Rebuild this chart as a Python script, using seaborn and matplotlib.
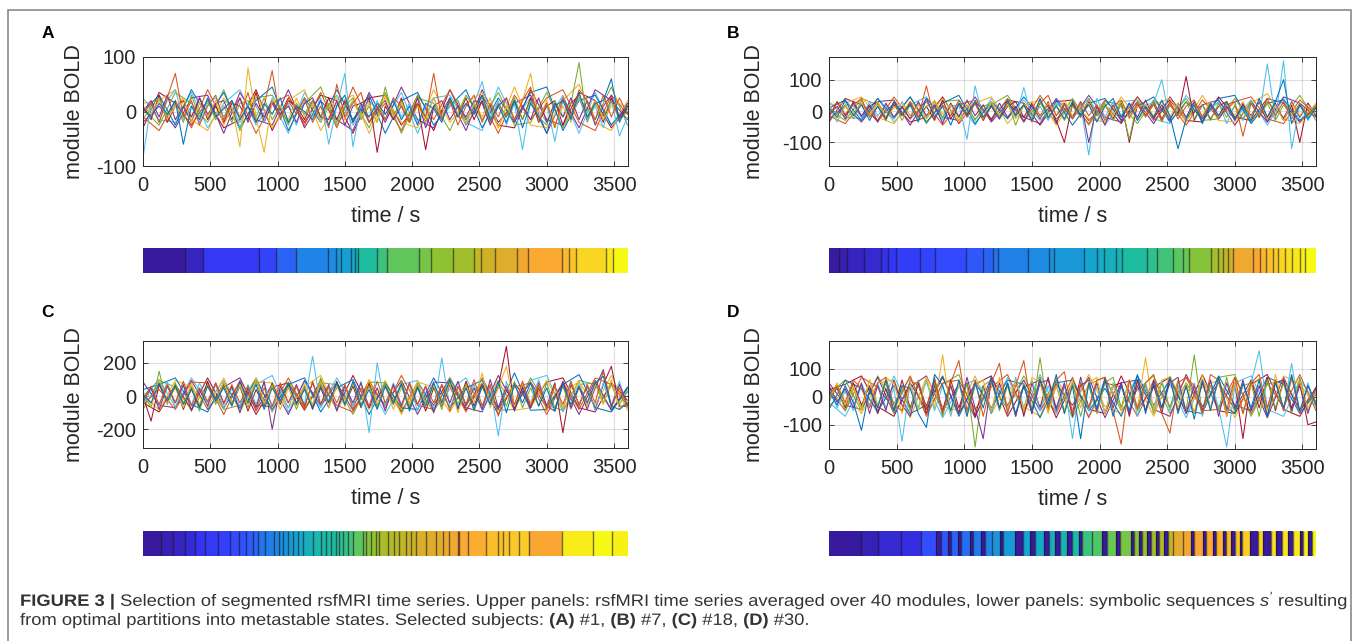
import numpy as np
import pandas as pd
import matplotlib
matplotlib.use("Agg")
import matplotlib.pyplot as plt
import seaborn as sns
from matplotlib.colors import LinearSegmentedColormap
from matplotlib.patches import Rectangle, PathPatch
from matplotlib.textpath import TextPath
from matplotlib.font_manager import FontProperties
from matplotlib.transforms import Affine2D

# ---------------- data ----------------
TIME_S = list(range(0, 3601, 60))      # fast group of modules
TIME2_S = list(range(0, 3601, 120))    # slower group of modules
XTICKS = [0, 500, 1000, 1500, 2000, 2500, 3000, 3500]

# panel A, subject #1
A_BLUE = [5, -10, 15, -5, 20, -60, 10, -15, 25, -10,
          5, 20, -15, 10, -20, 15, -5, 25, -20, 10,
          0, -15, 20, -25, 10, 30, -20, 5, -10, 15,
          -5, 20, -15, 10, -25, 15, 5, -20, 25, -10,
          15, -5, 30, -15, 10, -20, 20, -30, 15, -10,
          -40, 10, 20, -15, 35, -10, 15, 20, 60, -20,
          10]
A_ORANGE = [-5, 15, -20, 25, 70, -10, 20, -25, 10, 30,
            -15, 20, -10, 35, -20, 10, 75, -15, 20, -5,
            25, -20, 10, -30, 50, -10, 15, 35, -20, 10,
            -15, 25, 10, -20, 15, -10, 70, -15, 20, -25,
            10, 30, -20, 15, -10, 25, -15, 20, 45, -20,
            15, -30, 25, -10, 40, 20, -15, 30, -10, 25,
            -5]
A_YELLOW = [10, -5, 20, -15, 10, 25, -20, 15, -10, 20,
            -25, 10, -65, 80, -10, -75, 20, 10, -15, 25,
            -10, 15, -20, 10, 25, -15, 20, -10, 15, -20,
            30, -10, 15, -20, 10, -15, 25, -10, 20, -5,
            -20, 15, -10, 25, -30, 10, -15, 20, 70, -15,
            20, -25, 10, -20, 30, -10, 20, -15, 10, 15,
            5]
A_PURPLE = [0, 20, -10, 30, -15, 10, -20, 25, -5, 15,
            20, -15, 25, -20, 15, -10, 20, -5, 10, -20,
            15, 25, -10, -15, 20, -25, 10, 15, -20, 5,
            20, -15, 10, -20, 25, -30, 10, 20, -15, 10,
            -10, 20, 15, -25, 10, 25, -20, 10, -15, 25,
            -20, 15, -10, 25, -15, 20, -25, 10, 30, -10,
            15]
A_GREEN = [-15, 10, 25, -10, 15, -20, 30, -10, 20, -15,
           10, -20, 15, 20, -10, 25, -15, 10, -25, 15,
           -5, 20, -10, 15, -20, 10, 25, -15, 10, -20,
           45, -10, 20, -15, 30, -20, 10, -10, 15, 20,
           -15, 10, 25, -20, 15, -10, 25, -15, 20, -10,
           -25, 20, -10, 15, 90, -20, 15, -10, 20, -15,
           0]
A_CYAN = [-85, 15, -20, 20, 40, -15, 10, -20, 15, 25,
          -10, 20, -30, 15, 10, -20, 25, -10, 15, -25,
          20, -10, 25, -60, 10, 70, -65, 15, -10, 20,
          -15, 25, -10, 15, -20, 10, 25, -15, 10, 20,
          -25, 15, 55, -10, 20, -25, 15, -70, 20, -10,
          15, -55, 20, -10, 25, -15, 10, -30, 20, -45,
          -10]
A_RED = [10, -15, 30, -20, 10, 20, -10, 25, -15, 10,
         -20, 15, 10, -15, 35, -20, 15, -10, 20, 10,
         -15, 20, -10, 25, -15, 20, -20, 15, 25, -75,
         10, -15, 25, -20, 15, -70, 10, -15, 20, -10,
         25, -15, 20, -20, 15, -10, 20, -15, 25, -20,
         10, 20, -25, 15, 30, -15, 20, -20, 25, -15,
         10]
A_SLOW = [
    [0, 30, -25, 40, -10, 35, -30, 20, 45, -35, 25, -20, 40, -15, 30, -40,
     20, 35, -25, 10, 40, -30, 25, -20, 35, 45, -35, 20, 30, -25, 10],
    [-10, -35, 20, -30, 40, -20, 25, -40, 15, 30, -25, 35, -30, 45, -20, 15,
     -35, 30, -15, 40, -25, 20, -40, 30, -15, 25, 40, -20, -35, 30, -5],
    [15, 20, 40, -15, -35, 25, -20, 35, -30, 20, 40, -35, 15, 30, -40, 25,
     -20, -30, 40, -20, 15, 35, -30, 45, -25, -30, 20, 50, -20, -35, 20],
    [-20, 10, -30, 25, 30, -40, 35, -15, -25, 40, -30, 20, -15, -35, 35, -20,
     45, -15, -30, 25, -35, 40, -20, 15, 30, -40, 25, -30, 40, 20, -15],
    [5, -25, 35, 15, -20, 40, -35, 25, 30, -20, 15, 45, -25, 20, -30, 35,
     -40, 25, 15, -35, 30, -15, 35, -25, -20, 35, -30, 25, -15, 45, -25],
    [25, -15, -20, 35, -30, 15, 40, -25, 20, -40, 35, -15, 30, -25, 20, -15,
     35, -40, 25, 30, -20, -35, 45, -15, 25, -20, 30, -40, 35, -25, 15],
    [-30, 35, 15, -25, 20, -30, -15, 40, -35, 25, -20, 30, 20, -40, 25, 30,
     -25, 15, -35, 40, -15, 30, -25, -30, 40, -15, -25, 35, 20, -30, 5],
]

# panel B, subject #7
B_BLUE = [10, -20, 35, -15, 20, -30, 15, -25, 30, -10,
          20, -35, 40, -20, 15, -45, 25, -10, 30, -20,
          15, -25, 35, -15, 20, -30, 40, -20, 15, -25,
          30, -15, 20, -35, 15, 40, -20, 25, -30, 15,
          -20, 35, -15, -120, -25, 20, -40, 25, -15, 30,
          -25, 15, -30, 40, -20, 30, 100, -40, 20, -25,
          10]
B_ORANGE = [-15, 25, -10, 20, 40, -20, 15, -30, 25, -15,
            30, -20, 80, -25, 20, -15, 35, -20, 25, -30,
            15, -25, 30, -10, 20, -35, 25, 50, -15, 20,
            -25, 30, -15, 20, -30, 15, 35, -20, 25, -15,
            20, -30, 30, -25, 15, 35, -20, 25, -15, 20,
            30, -80, 25, -20, 40, -15, 30, -25, 20, -10,
            15]
B_YELLOW = [20, -30, 15, -10, 25, -15, 30, -20, 10, 25,
            -15, 20, -25, 35, -10, 20, -30, 15, 25, -20,
            30, -15, 20, -25, 15, 30, -20, 25, -15, 35,
            -20, 15, 25, -30, 20, -15, 30, -25, 15, 20,
            -15, 30, -20, 25, -35, 20, -15, 30, -20, 25,
            -15, 30, -20, 35, -25, 20, -30, 25, -15, 20,
            -10]
B_PURPLE = [-10, 15, -25, 30, -15, 20, -35, 25, -20, 15,
            -25, 30, -15, 20, -40, 25, -20, 35, -15, 20,
            -30, 25, -20, 15, -35, 20, -25, 30, -40, 25,
            -20, 30, -100, 15, -45, 20, -30, 25, -20, 35,
            -25, 20, -30, 25, -20, 30, -35, 20, -25, 15,
            -30, 25, -20, 30, -35, 20, -25, 30, -20, 25,
            -15]
B_GREEN = [15, -10, 20, -25, 35, -15, 25, -20, 30, -30,
           20, -25, 15, 30, -20, 25, -15, 20, -30, 15,
           25, -20, 30, -45, 20, -15, 35, -25, 20, -30,
           15, -20, 40, -15, 25, -30, 20, -90, 30, -20,
           25, -35, 20, -15, 30, -25, 20, -30, 25, -20,
           15, -25, 30, -20, 25, -30, 20, -15, 25, -20,
           20]
B_CYAN = [5, -35, 20, 15, -20, 30, -15, 20, -25, 30,
          -15, 25, -20, 30, -25, 15, 20, -90, 80, -20,
          25, -15, 30, -20, 75, -25, 15, -30, 20, 25,
          -15, 20, -140, 40, -20, 30, -15, 25, -30, 20,
          25, 100, -30, 20, -25, 30, -20, 15, 25, -40,
          20, -30, 25, -20, 150, -25, 160, -120, 20, -30,
          10]
B_RED = [-20, 30, -15, 25, -20, 15, 30, -25, 20, -15,
         25, -20, 15, -30, 35, -25, 20, -15, 25, -30,
         20, -25, 15, 30, -20, 25, -15, 20, -30, -100,
         25, -20, 30, -15, 20, -25, 30, -100, 20, -15,
         30, -25, 20, -15, 110, -30, 20, -25, 15, 30,
         -25, 20, -15, 30, -20, 25, -30, 20, -100, 25,
         -15]
B_SLOW = [
    [10, 35, -30, 40, -20, 45, -35, 25, 50, -40, 30, -25, 45, -20, 35, -45,
     25, 40, -30, 15, 45, -35, 30, -25, 40, 50, -40, 25, 35, -30, 10],
    [-15, -40, 25, -35, 45, -25, 30, -45, 20, 35, -30, 40, -35, 50, -25, 20,
     -40, 35, -20, 45, -30, 25, -45, 35, -20, 30, 45, -25, -40, 35, -10],
    [20, 25, 45, -20, -40, 30, -25, 40, -35, 25, 45, -40, 20, 35, -45, 30,
     -25, -35, 45, -25, 20, 40, -35, 50, -30, -35, 25, 55, -25, -40, 25],
    [-25, 15, -35, 30, 35, -45, 40, -20, -30, 45, -35, 25, -20, -40, 40, -25,
     50, -20, -35, 30, -40, 45, -25, 20, 35, -45, 30, -35, 45, 25, -20],
    [5, -30, 40, 20, -25, 45, -40, 30, 35, -25, 20, 50, -30, 25, -35, 40,
     -45, 30, 20, -40, 35, -20, 40, -30, -25, 40, -35, 30, -20, 50, -30],
    [30, -20, -25, 40, -35, 20, 45, -30, 25, -45, 40, -20, 35, -30, 25, -20,
     40, -45, 30, 35, -25, -40, 50, -20, 30, -25, 35, -45, 40, -30, 20],
    [-35, 40, 20, -30, 25, -35, -20, 45, -40, 30, -25, 35, 25, -45, 30, 35,
     -30, 20, -40, 45, -20, 35, -30, -35, 45, -20, -30, 40, 25, -35, 10],
]

# panel C, subject #18
C_BLUE = [10, -40, 80, -30, 60, -50, 40, -70, 60, -30,
          50, -60, 90, -40, 70, -80, 50, -30, 80, -50,
          40, -70, 60, -40, 80, -50, 90, -60, 40, -80,
          60, -40, 70, -90, 50, -60, 80, -40, 100, -70,
          50, -80, 60, -50, 90, -100, 70, -40, 80, -60,
          50, -90, 70, -50, 60, -40, 80, 120, -60, -80,
          -40]
C_ORANGE = [-20, 60, -50, 70, -40, 90, -60, 50, -30, 80,
            -50, 70, -40, 60, -90, 50, -60, 80, -40, 60,
            -70, 90, -50, 60, -40, 70, -80, 50, -60, 90,
            -40, 60, -70, 80, -50, 60, -40, 70, -90, 60,
            -50, 100, -60, 70, -120, 60, -50, 90, -60, 70,
            -80, 60, -50, 90, -60, 70, -40, 150, -70, 50,
            -60]
C_YELLOW = [30, -60, 100, -40, 50, -70, 80, -50, 60, -40,
            90, -60, 70, -50, 110, -40, 60, -80, 50, -60,
            70, -50, 90, -70, 60, -40, 80, -60, 100, -50,
            60, -80, 50, -40, 90, -60, 70, -50, 80, -100,
            60, -40, 140, -70, 50, 180, -60, 80, -50, 70,
            -90, 60, -70, 50, 90, -60, 70, -50, 100, -80,
            -20]
C_PURPLE = [-30, 50, -80, 60, -40, 70, -90, 40, -60, 80,
            -40, 60, -100, 50, -70, 90, -200, 60, -40, 70,
            -60, 80, -50, 70, -90, 60, -40, 80, -70, 50,
            -90, 70, -60, 80, -50, 60, -100, 70, -40, 90,
            -60, 50, -80, 100, -70, 60, -90, 50, -70, 80,
            -60, -90, 90, -70, 60, -80, 50, 160, -60, 70,
            -50]
C_GREEN = [20, -70, 150, -50, 80, -40, 60, -90, 70, -50,
           80, -40, 60, -70, 90, -50, 70, -40, 60, -80,
           50, -60, 110, -40, 70, -60, 80, -50, 60, -70,
           80, -50, 90, -60, 70, -40, 60, -80, 90, -50,
           70, -90, 60, -50, 80, -60, 90, -70, 50, -60,
           80, -70, 60, -80, 50, -60, 90, -40, 70, -50,
           30]
C_CYAN = [-50, 40, -60, 90, -70, 60, -50, 80, -40, 70,
          -80, 50, -60, 70, -50, 80, -60, 40, -70, 60,
          -50, 240, -60, 50, -80, 70, -60, 90, -220, 200,
          -60, 80, -50, 70, -90, 60, -80, 230, -70, 60,
          -50, 70, -90, 60, -240, 90, -60, 70, -40, 100,
          -70, 60, -80, 90, -60, 70, -90, 80, -60, 90,
          -70]
C_RED = [0, -150, 70, -40, 60, -80, 50, -60, 90, -40,
         70, -50, 60, -90, 40, -60, 80, -50, 70, -40,
         60, -80, 50, -70, 90, -50, 60, -70, 80, -60,
         70, -50, 80, -70, 60, -90, 50, -60, 70, -80,
         90, -60, 70, -50, 60, 300, -80, 60, -70, 50,
         -60, 80, -220, 70, -50, 60, -80, 70, 180, -60,
         -60]
C_SLOW = [
    [40, 70, 110, -50, -95, 80, -70, 100, -80, 70, 110, -95, 50, 100, -110, 80,
     -70, -80, 110, -70, 50, 95, -80, 140, -85, -80, 70, 130, -70, -95, 50],
    [-50, 40, -80, 85, 80, -110, 95, -55, -65, 110, -80, 70, -55, -95, 95, -70,
     125, -55, -80, 85, -95, 110, -70, 55, 80, -110, 85, -80, 110, 70, -55],
    [10, -85, 95, 55, -70, 110, -95, 85, 80, -70, 55, 125, -85, 70, -80, 95,
     -110, 85, 55, -95, 80, -55, 95, -85, -70, 95, -80, 85, -55, 125, -85],
    [85, -55, -70, 95, -80, 55, 110, -85, 70, -110, 95, -55, 80, -85, 70, -55,
     95, -110, 85, 80, -70, -95, 125, -55, 85, -70, 80, -110, 95, -85, 55],
    [-80, 95, 55, -85, 70, -80, -55, 110, -95, 85, -70, 80, 70, -110, 85, 80,
     -85, 55, -95, 110, -55, 80, -85, -80, 110, -55, -85, 95, 70, -80, 25],
    [0, 100, -65, 110, -40, 95, -80, 70, 125, -95, 85, -70, 110, -55, 80, -110,
     70, 95, -85, 40, 110, -80, 85, -70, 95, 125, -95, 70, 80, -85, 40],
    [-40, -95, 70, -80, 110, -70, 85, -110, 55, 80, -85, 95, -80, 125, -70, 55,
     -95, 80, -55, 110, -85, 70, -110, 80, -55, 85, 110, -70, -95, 80, -25],
]

# panel D, subject #30
D_BLUE = [20, -30, 40, -20, -120, 30, -40, 60, -50, 40,
          30, -60, -110, 80, 40, -50, 60, -70, 50, -40,
          70, -40, 50, -60, 40, -50, 60, -30, 80, -60,
          40, -150, 50, -40, 60, -70, 40, -50, 80, -60,
          50, -40, 70, -60, 40, -80, 60, -50, 70, -40,
          -60, 50, -40, 60, -70, 50, -40, 80, -50, 40,
          -30]
D_ORANGE = [10, 40, -20, 60, 30, -40, 50, 70, -30, -50,
            60, 40, -40, 70, -60, 50, 130, -50, 60, -70,
            50, 120, -60, 40, 130, -50, 70, -40, 60, 90,
            -60, 50, -40, 60, 70, -50, -170, 60, -40, 50,
            80, -60, -130, 50, 70, 40, -60, 80, 60, -50,
            70, -60, 50, 80, -40, 60, -50, 70, -60, 40,
            -20]
D_YELLOW = [-10, 50, -30, 40, -50, 60, -40, 70, 50, -60,
            40, -50, 70, -40, 150, -60, 50, -70, 40, 60,
            -50, 70, -40, 60, -50, 70, 50, -60, 40, -50,
            60, -40, 50, 70, -60, 40, -50, 60, -40, 140,
            -50, 60, 70, -40, 50, -60, 80, -40, 60, -70,
            50, -60, 40, 60, -50, 80, -40, 60, 50, -40,
            20]
D_PURPLE = [40, -20, 30, -40, 50, -60, 40, -50, 60, -30,
            -70, 50, -40, 60, -50, 40, -60, 70, -40, -150,
            60, -40, 50, -70, 40, -60, 50, 60, -40, 50,
            -70, 40, 60, -50, 70, -40, 50, -60, 40, -50,
            60, -40, 50, 70, -60, 40, -50, 60, -70, 50,
            -40, 60, -50, 40, -70, 50, 60, -50, 40, -60,
            30]
D_GREEN = [-20, 40, -50, 30, -40, 60, -30, 50, -60, 40,
           -50, 60, -40, 50, -70, 40, -60, 50, -180, 40,
           60, -50, 40, -70, 50, -60, 140, -50, 40, -60,
           50, -70, 40, -60, 50, 70, -40, 60, -50, 40,
           -60, 50, -40, 60, -50, 150, -60, 40, -50, 70,
           -60, 40, 50, -70, 60, -40, 50, -60, 70, -50,
           10]
D_CYAN = [30, -40, 20, -50, 40, -30, 50, -40, 30, -160,
          50, -40, 60, -50, 40, -70, 50, -60, 40, 30,
          -60, 40, -50, 70, -40, 60, -50, 40, -60, 50,
          -150, 60, -50, 40, -60, 50, -40, 60, -70, 50,
          -40, 60, -50, 40, -60, 50, -70, 60, -40, -180,
          40, -60, 50, 165, -40, 60, -50, 120, -60, 50,
          -40]
D_RED = [0, 30, -40, 50, -30, 40, -60, 30, -50, 60,
         -40, 50, -60, 40, -50, 60, -40, 50, -70, 40,
         -60, 50, -40, 60, -70, 50, -40, 70, -50, 40,
         -60, 70, -40, 50, -60, 40, 50, -70, 60, -50,
         40, -60, 70, -50, 40, -60, 50, -40, 60, -70,
         50, -150, 60, -40, 70, -50, 60, -40, 50, -100,
         -90]
D_SLOW = [
    [-45, 60, 30, -50, 40, -60, -30, 75, -70, 50, -40, 60, 45, -75, 50, 60,
     -50, 30, -70, 75, -30, 60, -50, -60, 75, -30, -50, 70, 45, -60, 15],
    [30, -50, 70, 35, -45, 75, -70, 50, 60, -45, 35, 80, -50, 45, -60, 70,
     -75, 50, 35, -70, 60, -35, 70, -50, -45, 70, -60, 50, -35, 80, -50],
    [-35, 25, -60, 50, 60, -75, 70, -35, -50, 75, -60, 45, -35, -70, 70, -45,
     80, -35, -60, 50, -70, 75, -45, 35, 60, -75, 50, -60, 75, 45, -35],
    [50, -30, -45, 70, -60, 35, 75, -50, 45, -75, 70, -30, 60, -50, 45, -30,
     70, -75, 50, 60, -45, -70, 80, -35, 50, -45, 60, -75, 70, -50, 30],
    [10, 60, -50, 75, -25, 70, -60, 45, 80, -70, 50, -45, 75, -35, 60, -75,
     45, 70, -50, 25, 75, -60, 50, -45, 70, 80, -70, 45, 60, -50, 20],
    [-20, -70, 45, -60, 75, -45, 50, -75, 35, 60, -50, 70, -60, 80, -45, 35,
     -70, 60, -35, 75, -50, 45, -75, 60, -35, 50, 75, -45, -70, 60, -20],
    [25, 45, 75, -35, -70, 50, -45, 70, -60, 45, 75, -70, 35, 60, -75, 50,
     -45, -60, 75, -45, 35, 70, -60, 80, -50, -60, 45, 80, -45, -70, 35],
]

# symbolic sequences: segment edges (s) and colour level of each segment
A_EDGES = [0, 309, 445, 861, 990, 1138, 1373, 1435, 1472, 1546, 1578, 1596,
           1739, 1811, 2049, 2140, 2301, 2457, 2511, 2617, 2778, 2857, 3112,
           3167, 3216, 3439, 3489, 3600]
A_LEVELS = [0.00, 0.04, 0.12, 0.15, 0.22, 0.28, 0.30, 0.33, 0.36, 0.40, 0.42,
            0.48, 0.52, 0.57, 0.60, 0.63, 0.66, 0.70, 0.72, 0.75, 0.78, 0.81,
            0.85, 0.88, 0.92, 0.96, 1.00]

B_EDGES = [0, 74, 136, 260, 384, 434, 496, 669, 781, 1016, 1140, 1214, 1251,
           1474, 1623, 1660, 1883, 1982, 2032, 2119, 2168, 2354, 2428, 2540,
           2614, 2664, 2825, 2874, 2912, 2949, 2986, 3135, 3184, 3234, 3283,
           3321, 3370, 3420, 3482, 3519, 3600]
B_LEVELS = [0.00, 0.02, 0.04, 0.06, 0.09, 0.11, 0.13, 0.15, 0.17, 0.20, 0.22,
            0.25, 0.27, 0.30, 0.32, 0.34, 0.38, 0.40, 0.42, 0.44, 0.48, 0.50,
            0.53, 0.56, 0.58, 0.62, 0.66, 0.68, 0.70, 0.72, 0.78, 0.80, 0.84,
            0.87, 0.90, 0.92, 0.94, 0.96, 0.98, 1.00]

C_EDGES = [0, 136, 223, 309, 383, 458, 557, 643, 717, 767, 816, 853, 903, 977,
           1014, 1039, 1076, 1113, 1150, 1188, 1262, 1324, 1361, 1398, 1435,
           1460, 1484, 1522, 1559, 1633, 1658, 1695, 1732, 1757, 1818, 1868,
           1905, 1954, 1992, 2029, 2103, 2177, 2227, 2276, 2338, 2350, 2412,
           2548, 2635, 2672, 2721, 2796, 2870, 3117, 3340, 3488, 3600]
C_LEVELS = [0.00, 0.02, 0.04, 0.07, 0.10, 0.12, 0.14, 0.17, 0.19, 0.21, 0.23,
            0.25, 0.27, 0.29, 0.31, 0.33, 0.35, 0.37, 0.39, 0.42, 0.45, 0.46,
            0.47, 0.48, 0.49, 0.50, 0.51, 0.53, 0.56, 0.60, 0.62, 0.64, 0.65,
            0.67, 0.68, 0.69, 0.70, 0.71, 0.72, 0.74, 0.75, 0.76, 0.77, 0.78,
            0.79, 0.81, 0.82, 0.86, 0.87, 0.88, 0.89, 0.90, 0.80, 0.97, 1.00,
            0.98]

D_EDGES = [0, 235, 359, 533, 681, 793, 830, 880, 904, 954, 979, 1041, 1066,
           1127, 1152, 1202, 1264, 1289, 1375, 1437, 1487, 1524, 1586, 1623,
           1673, 1710, 1759, 1797, 1846, 1871, 1945, 2020, 2057, 2119, 2151,
           2230, 2255, 2292, 2317, 2354, 2379, 2416, 2436, 2478, 2503, 2540,
           2614, 2676, 2701, 2763, 2788, 2837, 2862, 2912, 2936, 2974, 2998,
           3036, 3055, 3110, 3172, 3209, 3271, 3308, 3345, 3395, 3432, 3482,
           3506, 3543, 3568, 3600]
D_LEVELS = [0.00, 0.03, 0.06, 0.08, 0.18, 0.00, 0.20, 0.00, 0.22, 0.00, 0.24,
            0.00, 0.26, 0.00, 0.28, 0.33, 0.00, 0.35, 0.00, 0.38, 0.00, 0.40,
            0.00, 0.42, 0.00, 0.44, 0.00, 0.46, 0.00, 0.52, 0.55, 0.00, 0.58,
            0.00, 0.60, 0.00, 0.62, 0.00, 0.64, 0.00, 0.66, 0.00, 0.68, 0.00,
            0.70, 0.76, 0.78, 0.00, 0.80, 0.00, 0.82, 0.00, 0.84, 0.00, 0.86,
            0.00, 0.88, 0.00, 0.90, 0.00, 0.92, 0.00, 0.94, 0.00, 0.95, 0.00,
            0.96, 0.00, 0.98, 0.00, 1.00]

PANELS = [
    ("A", [A_BLUE, A_ORANGE, A_YELLOW, A_PURPLE, A_GREEN, A_CYAN, A_RED], A_SLOW,
     (-100, 100), [-100, 0, 100], A_EDGES, A_LEVELS),
    ("B", [B_BLUE, B_ORANGE, B_YELLOW, B_PURPLE, B_GREEN, B_CYAN, B_RED], B_SLOW,
     (-175, 172), [-100, 0, 100], B_EDGES, B_LEVELS),
    ("C", [C_BLUE, C_ORANGE, C_YELLOW, C_PURPLE, C_GREEN, C_CYAN, C_RED], C_SLOW,
     (-312, 332), [-200, 0, 200], C_EDGES, C_LEVELS),
    ("D", [D_BLUE, D_ORANGE, D_YELLOW, D_PURPLE, D_GREEN, D_CYAN, D_RED], D_SLOW,
     (-187, 200), [-100, 0, 100], D_EDGES, D_LEVELS),
]

# ---------------- style ----------------
sns.set_theme(style="ticks")
plt.rcParams["font.family"] = ["Liberation Sans", "DejaVu Sans"]
plt.rcParams["axes.unicode_minus"] = False
plt.rcParams["mathtext.fontset"] = "custom"
plt.rcParams["mathtext.rm"] = "Liberation Sans"
plt.rcParams["mathtext.it"] = "Liberation Sans:italic"
plt.rcParams["mathtext.bf"] = "Liberation Sans:bold"

MATLAB_COLORS = ["#0072BD", "#D95319", "#EDB120", "#7E2F8E",
                 "#77AC30", "#4DBEEE", "#A2142F"]
INK = (0.15, 0.15, 0.15)

parula = LinearSegmentedColormap.from_list("parula_like", [
    (0.00, (0.22, 0.10, 0.62)),
    (0.10, (0.20, 0.20, 0.95)),
    (0.18, (0.20, 0.30, 1.00)),
    (0.28, (0.12, 0.52, 0.90)),
    (0.38, (0.08, 0.65, 0.80)),
    (0.48, (0.12, 0.74, 0.62)),
    (0.56, (0.35, 0.78, 0.38)),
    (0.64, (0.58, 0.76, 0.18)),
    (0.72, (0.80, 0.70, 0.15)),
    (0.80, (0.98, 0.65, 0.20)),
    (0.90, (0.98, 0.80, 0.15)),
    (1.00, (0.97, 0.98, 0.08)),
])

W, H = 1357, 641
fig = plt.figure(figsize=(W / 100, H / 100), dpi=100)


def fbox(x0, x1, y_top, y_bot):
    return [x0 / W, 1 - y_bot / H, (x1 - x0) / W, (y_bot - y_top) / H]


# pixel layout: axes x0, x1, top, bottom, bar top, bar bottom, letter x, y, ylabel offset
LAYOUT = {
    "A": (143, 627.5, 57, 166, 248, 273, 48, 34, 58),
    "B": (829, 1316, 57, 166, 248, 273, 733, 34, 64),
    "C": (143, 627.5, 341, 448, 531, 556, 48, 312, 58),
    "D": (829, 1316, 341, 449, 531, 556, 733, 312, 64),
}

for letter, fast, slow, ylim, yticks, edges, levels in PANELS:
    x0, x1, yt, yb, bt, bb, lx, ly, yoff = LAYOUT[letter]
    ax = fig.add_axes(fbox(x0, x1, yt, yb))

    frames = []
    for k, vals in enumerate(fast):
        frames.append(pd.DataFrame({"time": TIME_S, "bold": vals, "module": f"f{k}"}))
    for k, vals in enumerate(slow):
        frames.append(pd.DataFrame({"time": TIME2_S, "bold": vals, "module": f"s{k}"}))
    df = pd.concat(frames, ignore_index=True)
    order = [f"f{k}" for k in range(len(fast))] + [f"s{k}" for k in range(len(slow))]
    pal = {m: MATLAB_COLORS[i % 7] for i, m in enumerate(order)}
    # slow modules first so the sharp ones sit on top
    sns.lineplot(data=df, x="time", y="bold", hue="module", hue_order=order[::-1],
                 palette=pal, legend=False, linewidth=0.75, estimator=None, ax=ax)

    ax.set_xlim(0, 3600)
    ax.set_ylim(*ylim)
    ax.set_xticks(XTICKS)
    ax.set_yticks(yticks)
    ax.grid(True, color=INK, alpha=0.15, linewidth=0.8)
    ax.set_axisbelow(True)
    ax.tick_params(direction="in", length=3.5, width=0.6, top=True,
                   right=True, labelsize=14.5, colors=INK)
    ax.tick_params(axis="x", pad=7)
    ax.tick_params(axis="y", pad=5)
    for sp in ax.spines.values():
        sp.set_color(INK)
        sp.set_linewidth(0.7)
    ax.set_xlabel("time / s", fontsize=15.5, color=INK)
    ax.set_ylabel("module BOLD", fontsize=15.5, color=INK)
    ax.xaxis.set_label_coords(0.5, -40 / (yb - yt))
    ax.yaxis.set_label_coords(-yoff / (x1 - x0), 0.5)

    # symbolic sequence bar
    bax = fig.add_axes(fbox(x0, x1, bt, bb))
    bax.barh(0, np.diff(edges), left=edges[:-1], height=1.0,
             color=parula(np.array(levels)), edgecolor="none")
    bax.vlines(edges[1:-1], -0.5, 0.5, color=(0.1, 0.08, 0.15),
               linewidth=1.0, alpha=0.6)
    bax.set_xlim(0, 3600)
    bax.set_ylim(-0.5, 0.5)
    bax.axis("off")

    fig.text(lx / W, 1 - ly / H, letter, fontsize=12.5, fontweight="bold",
             ha="center", va="center", color="black")

# frame around the figure
fig.add_artist(Rectangle((8 / W, -0.05), (1351 - 8) / W, 1.05 - 10 / H,
                         transform=fig.transFigure, fill=False,
                         edgecolor="#8a8a8a", linewidth=1.2))

# caption, drawn as text paths fitted to the caption width (pixel coordinates)
line1 = (r"$\mathbf{FIGURE\ 3\ |}$ Selection of segmented rsfMRI time series. "
         r"Upper panels: rsfMRI time series averaged over 40 modules, lower panels: "
         r"symbolic sequences $s'$ resulting")
line2 = (r"from optimal partitions into metastable states. Selected subjects: "
         r"$\mathbf{(A)}$ #1, $\mathbf{(B)}$ #7, $\mathbf{(C)}$ #18, $\mathbf{(D)}$ #30.")
cap_prop = FontProperties(family="Liberation Sans")
cap_color = (0.2, 0.2, 0.2)
cap_size = 16.5
tp1 = TextPath((0, 0), line1, size=cap_size, prop=cap_prop)
sx = (1345 - 20) / tp1.get_extents().width
for tp, base in ((tp1, 606), (TextPath((0, 0), line2, size=cap_size, prop=cap_prop), 625)):
    tr = Affine2D().scale(sx, 1.0).translate(20, H - base)
    fig.add_artist(PathPatch(tp, transform=tr, facecolor=cap_color,
                             edgecolor="none", linewidth=0))

fig.savefig("out.png", dpi=100)
